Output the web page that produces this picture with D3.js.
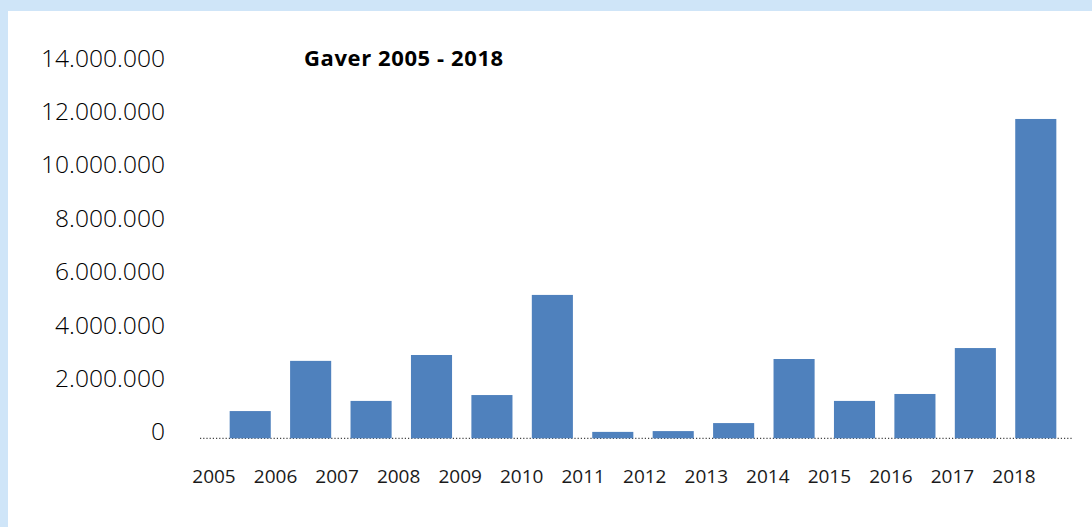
<!DOCTYPE html>
<html>
<head>
<meta charset="utf-8">
<script src="https://cdn.jsdelivr.net/npm/d3@7"></script>
<style>
  html, body { margin: 0; padding: 0; background: #cfe5f8; }
  svg { display: block; }
</style>
</head>
<body>
<svg id="chart" width="1092" height="527"></svg>
<script>
// Gaver 2005 - 2018 (kroner)
const years = ['2005', '2006', '2007', '2008', '2009', '2010', '2011',
               '2012', '2013', '2014', '2015', '2016', '2017', '2018'];
const gifts = [1020000, 2900000, 1400000, 3120000, 1620000, 5370000, 240000,
               270000, 570000, 2970000, 1400000, 1660000, 3380000, 11960000];
const yTicks = [0, 2000000, 4000000, 6000000, 8000000, 10000000, 12000000, 14000000];
const title = 'Gaver 2005 - 2018';

const svg = d3.select('#chart');

// white panel inside the light blue frame
svg.append('rect')
    .attr('x', 8).attr('y', 11)
    .attr('width', 1084).attr('height', 516)
    .attr('fill', '#fff');

const x = d3.scaleBand()
    .domain(years)
    .range([220, 1066])
    .paddingInner(0.32)
    .paddingOuter(0.16);

// year labels don't sit under the bars in the original, they run on their own spacing
const xLabel = d3.scalePoint()
    .domain(years)
    .range([214, 1014]);

const y = d3.scaleLinear()
    .domain([0, 14000000])
    .range([438.3, 64.5]);

const fmt = d3.formatLocale({ decimal: ',', thousands: '.', grouping: [3], currency: ['', ' kr.'] }).format(',d');

// y axis, labels only
const yAxis = svg.append('g')
    .attr('transform', 'translate(165,0)')
    .call(d3.axisLeft(y).tickValues(yTicks).tickFormat(fmt).tickSize(0).tickPadding(0));
yAxis.select('.domain').remove();
yAxis.selectAll('text')
    .attr('dy', '-8')
    .attr('dominant-baseline', 'central')
    .attr('font-family', '"Open Sans", "Noto Sans", sans-serif')
    .attr('font-weight', 300)
    .attr('font-size', '24.6px')
    .attr('fill', '#000');

// dotted baseline
svg.append('line')
    .attr('x1', 200).attr('x2', 1073)
    .attr('y1', y(0)).attr('y2', y(0))
    .attr('stroke', '#444')
    .attr('stroke-width', 1.2)
    .attr('stroke-dasharray', '1.2 2');

svg.append('g')
    .attr('fill', '#4f81bd')
  .selectAll('rect')
  .data(gifts)
  .join('rect')
    .attr('x', (d, i) => x(years[i]))
    .attr('y', d => y(d))
    .attr('width', x.bandwidth())
    .attr('height', d => y(0) - y(d));

svg.append('g')
  .selectAll('text')
  .data(years)
  .join('text')
    .attr('x', d => xLabel(d))
    .attr('y', 483)
    .attr('text-anchor', 'middle')
    .attr('font-family', '"Open Sans", "Noto Sans", sans-serif')
    .attr('font-size', '19px')
    .attr('fill', '#1a1a1a')
    .text(d => d);

svg.append('text')
    .attr('x', 304)
    .attr('y', 66)
    .attr('font-family', '"Open Sans", "Noto Sans", sans-serif')
    .attr('font-weight', 'bold')
    .attr('font-size', '22px')
    .attr('letter-spacing', '0.6px')
    .attr('fill', '#000')
    .text(title);
</script>
</body>
</html>
